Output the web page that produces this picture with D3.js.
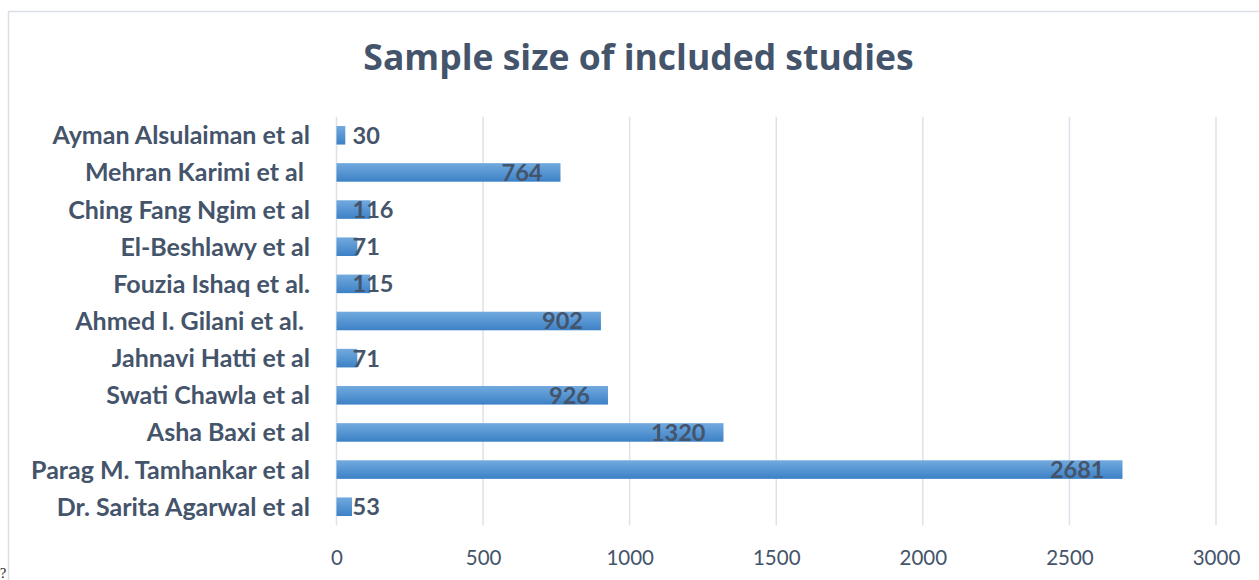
<!DOCTYPE html>
<html>
<head>
<meta charset="utf-8">
<script src="https://cdn.jsdelivr.net/npm/d3@7"></script>
<style>
  html, body { margin: 0; padding: 0; background: #ffffff; }
  svg { display: block; }
  text { font-family: Lato, "Open Sans", sans-serif; }
</style>
</head>
<body>
<svg id="chart" width="1259" height="580"></svg>
<script>
// Studies, listed top to bottom
const studies = [
  "Ayman Alsulaiman et al",
  "Mehran Karimi et al ",
  "Ching Fang Ngim et al",
  "El-Beshlawy et al",
  "Fouzia Ishaq et al.",
  "Ahmed I. Gilani et al. ",
  "Jahnavi Hatti et al",
  "Swati Chawla et al",
  "Asha Baxi et al",
  "Parag M. Tamhankar et al",
  "Dr. Sarita Agarwal et al"
];
const sampleSizes = [30, 764, 116, 71, 115, 902, 71, 926, 1320, 2681, 53];
const xTicks = [0, 500, 1000, 1500, 2000, 2500, 3000];
const chartTitle = "Sample size of included studies";

const svg = d3.select("#chart");
const textColor = "#44546a";
const gridColor = "#dde2e9";

// chart frame
svg.append("rect")
  .attr("x", 8.5).attr("y", 11.5)
  .attr("width", 1300).attr("height", 700)
  .attr("fill", "none")
  .attr("stroke", "#dadfe6")
  .attr("stroke-width", 1.5);

const plot = { left: 336.5, right: 1216, top: 116.7, bottom: 525.3 };

const x = d3.scaleLinear().domain([0, 3000]).range([plot.left, plot.right]);
const y = d3.scaleBand().domain(studies).range([plot.top, plot.bottom]).padding(0.5).paddingOuter(0.25);

// gradient fill for bars
const defs = svg.append("defs");
const grad = defs.append("linearGradient")
  .attr("id", "barFill").attr("x1", 0).attr("y1", 0).attr("x2", 0).attr("y2", 1);
grad.append("stop").attr("offset", "0%").attr("stop-color", "#72aadf");
grad.append("stop").attr("offset", "100%").attr("stop-color", "#3c81c6");

// vertical gridlines
svg.append("g")
  .selectAll("line")
  .data(xTicks)
  .join("line")
  .attr("x1", d => x(d)).attr("x2", d => x(d))
  .attr("y1", plot.top).attr("y2", plot.bottom)
  .attr("stroke", gridColor)
  .attr("stroke-width", 1.5);

// x axis tick labels
const xAxis = d3.axisBottom(x).tickValues(xTicks).tickSize(0).tickPadding(0).tickFormat(d3.format("d"));
const gx = svg.append("g")
  .attr("transform", `translate(0, ${plot.bottom})`)
  .call(xAxis);
gx.select(".domain").remove();
gx.selectAll("text")
  .attr("dy", null)
  .attr("y", 39.5)
  .attr("fill", textColor)
  .style("font-family", "Lato, sans-serif")
  .style("font-size", "20.5px");

// category labels
const yAxis = d3.axisLeft(y).tickSize(0).tickPadding(0);
const gy = svg.append("g")
  .attr("transform", `translate(310, 0)`)
  .call(yAxis);
gy.select(".domain").remove();
gy.selectAll("text")
  .attr("x", 0)
  .attr("dy", "0.36em")
  .attr("fill", textColor)
  .style("white-space", "pre")
  .style("font-family", "Lato, sans-serif")
  .style("font-weight", "700")
  .style("font-size", "25px");

// bars
svg.append("g")
  .selectAll("rect")
  .data(studies)
  .join("rect")
  .attr("x", x(0))
  .attr("y", d => y(d))
  .attr("width", (d, i) => x(sampleSizes[i]) - x(0))
  .attr("height", y.bandwidth())
  .attr("fill", "url(#barFill)");

// value labels: inside the bar end, or starting just right of the axis when the bar is short
const labels = svg.append("g")
  .selectAll("text")
  .data(studies)
  .join("text")
  .attr("y", d => y(d) + y.bandwidth() / 2)
  .attr("dy", "0.36em")
  .attr("fill", textColor)
  .style("font-weight", "700")
  .style("font-size", "23.5px")
  .text((d, i) => sampleSizes[i]);
labels.each(function (d, i) {
  const w = this.getComputedTextLength();
  const left = Math.max(x(sampleSizes[i]) - 18 - w, x(0) + 16);
  d3.select(this).attr("x", left);
});

// title
svg.append("text")
  .attr("x", 638.5)
  .attr("y", 70)
  .attr("text-anchor", "middle")
  .attr("fill", textColor)
  .style("font-family", "'Open Sans', sans-serif")
  .style("font-weight", "700")
  .style("font-size", "35.5px")
  .text(chartTitle);

// stray glyph at the page corner
svg.append("text")
  .attr("x", 0)
  .attr("y", 578)
  .attr("fill", "#111")
  .style("font-family", "'Liberation Serif', serif")
  .style("font-size", "14px")
  .text("?");
</script>
</body>
</html>
